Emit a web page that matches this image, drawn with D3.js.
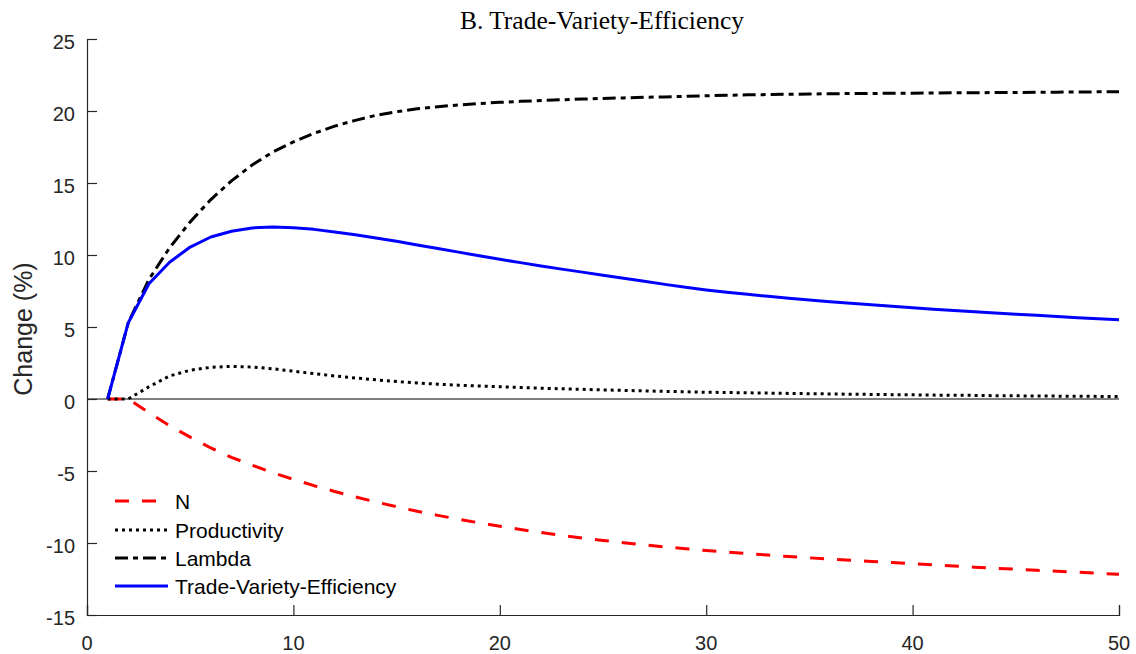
<!DOCTYPE html>
<html>
<head>
<meta charset="utf-8">
<script src="https://cdn.jsdelivr.net/npm/d3@7"></script>
<style>
  html, body { margin: 0; padding: 0; background: #fff; }
  svg { display: block; }
</style>
</head>
<body>
<svg id="chart" width="1136" height="654"></svg>
<script>
const title = "B. Trade-Variety-Efficiency";
const yLabel = "Change (%)";
const periods = d3.range(1, 51);
const xTicks = [0, 10, 20, 30, 40, 50];
const yTicks = [-15, -10, -5, 0, 5, 10, 15, 20, 25];
const seriesNames = ["N", "Productivity", "Lambda", "Trade-Variety-Efficiency"];

const nValues = [0, 0, -0.95, -1.85, -2.65, -3.4, -4.05, -4.6, -5.12, -5.58,
  -6.02, -6.42, -6.8, -7.15, -7.48, -7.8, -8.08, -8.35, -8.6, -8.84,
  -9.06, -9.27, -9.47, -9.65, -9.82, -9.98, -10.13, -10.27, -10.4, -10.52,
  -10.63, -10.74, -10.84, -10.94, -11.03, -11.12, -11.2, -11.28, -11.36, -11.44,
  -11.52, -11.6, -11.68, -11.75, -11.82, -11.89, -11.96, -12.03, -12.1, -12.17];

const productivityValues = [0, 0, 0.85, 1.6, 2.0, 2.2, 2.27, 2.22, 2.1, 1.93,
  1.76, 1.6, 1.46, 1.33, 1.21, 1.11, 1.03, 0.96, 0.9, 0.85,
  0.8, 0.75, 0.71, 0.67, 0.63, 0.6, 0.56, 0.53, 0.5, 0.47,
  0.45, 0.43, 0.41, 0.39, 0.37, 0.35, 0.33, 0.32, 0.3, 0.29,
  0.27, 0.26, 0.25, 0.23, 0.22, 0.21, 0.2, 0.19, 0.18, 0.17];

const lambdaValues = [0, 5.3, 8.3, 10.5, 12.3, 13.85, 15.15, 16.25, 17.15, 17.85,
  18.45, 18.95, 19.35, 19.7, 19.95, 20.15, 20.3, 20.42, 20.52, 20.6,
  20.67, 20.73, 20.78, 20.83, 20.87, 20.91, 20.95, 20.98, 21.02, 21.06,
  21.09, 21.12, 21.14, 21.16, 21.18, 21.2, 21.21, 21.22, 21.23, 21.24,
  21.25, 21.26, 21.27, 21.28, 21.29, 21.3, 21.31, 21.32, 21.33, 21.34];

const tveValues = [0, 5.3, 8.0, 9.5, 10.55, 11.25, 11.65, 11.88, 11.95, 11.9,
  11.78, 11.6, 11.4, 11.18, 10.95, 10.7, 10.45, 10.2, 9.95, 9.7,
  9.47, 9.24, 9.02, 8.81, 8.6, 8.38, 8.17, 7.96, 7.76, 7.57,
  7.41, 7.27, 7.13, 7.0, 6.88, 6.76, 6.65, 6.54, 6.44, 6.34,
  6.24, 6.15, 6.06, 5.97, 5.89, 5.81, 5.73, 5.65, 5.58, 5.5];

const allSeries = [nValues, productivityValues, lambdaValues, tveValues];
const styles = [
  { color: "#ff0000", width: 3, dash: "14,13" },
  { color: "#000000", width: 3, dash: "3,4" },
  { color: "#000000", width: 3, dash: "13,5,5,5" },
  { color: "#0000ff", width: 3, dash: null }
];

const svg = d3.select("#chart");
const mLeft = 87, mRight = 1119, mTop = 39, mBottom = 615;
const axisColor = "#262626";

const x = d3.scaleLinear().domain([0, 50]).range([mLeft, mRight]);
const y = d3.scaleLinear().domain([-15, 25]).range([mBottom, mTop]);

// zero line
svg.append("line")
  .attr("x1", x(0)).attr("x2", x(50))
  .attr("y1", y(0)).attr("y2", y(0))
  .attr("stroke", "#000").attr("stroke-width", 1);

// axes (ticks inward)
const xAxis = svg.append("g").attr("transform", `translate(0,${mBottom})`)
  .call(d3.axisTop(x).tickValues(xTicks).tickSize(10).tickFormat(""));
const yAxis = svg.append("g").attr("transform", `translate(${mLeft},0)`)
  .call(d3.axisRight(y).tickValues(yTicks).tickSize(10).tickFormat(""));
[xAxis, yAxis].forEach(g => {
  g.select(".domain").attr("stroke", axisColor).attr("stroke-width", 1.2);
  g.selectAll(".tick line").attr("stroke", axisColor).attr("stroke-width", 1.2);
});

// tick labels
svg.append("g").selectAll("text").data(xTicks).join("text")
  .attr("x", d => x(d)).attr("y", mBottom + 35)
  .attr("text-anchor", "middle")
  .attr("font-family", "Liberation Sans, Arial, sans-serif")
  .attr("font-size", 20).attr("fill", axisColor)
  .text(d => d);
svg.append("g").selectAll("text").data(yTicks).join("text")
  .attr("x", mLeft - 12).attr("y", d => y(d) + 10)
  .attr("text-anchor", "end")
  .attr("font-family", "Liberation Sans, Arial, sans-serif")
  .attr("font-size", 20).attr("fill", axisColor)
  .text(d => d);

// y label
svg.append("text")
  .attr("transform", `translate(32,329) rotate(-90)`)
  .attr("text-anchor", "middle")
  .attr("font-family", "Liberation Sans, Arial, sans-serif")
  .attr("font-size", 25).attr("fill", axisColor)
  .text(yLabel);

// title
svg.append("text")
  .attr("x", 602).attr("y", 29)
  .attr("text-anchor", "middle")
  .attr("font-family", "Liberation Serif, Times New Roman, serif")
  .attr("font-size", 25.5).attr("fill", "#000")
  .text(title);

// series
const line = d3.line().x((d, i) => x(periods[i])).y(d => y(d));
allSeries.forEach((vals, i) => {
  const s = styles[i];
  svg.append("path")
    .datum(vals)
    .attr("d", line)
    .attr("fill", "none")
    .attr("stroke", s.color)
    .attr("stroke-width", s.width)
    .attr("stroke-dasharray", s.dash)
    .attr("stroke-linejoin", "round");
});

// legend
const legendY = [501, 530, 558, 586];
const lg = svg.append("g");
seriesNames.forEach((name, i) => {
  const s = styles[i];
  lg.append("line")
    .attr("x1", 115).attr("x2", 168)
    .attr("y1", legendY[i]).attr("y2", legendY[i])
    .attr("stroke", s.color).attr("stroke-width", s.width)
    .attr("stroke-dasharray", s.dash);
  lg.append("text")
    .attr("x", 175).attr("y", legendY[i] + 8)
    .attr("font-family", "Liberation Sans, Arial, sans-serif")
    .attr("font-size", 21).attr("fill", "#000")
    .text(name);
});
</script>
</body>
</html>
